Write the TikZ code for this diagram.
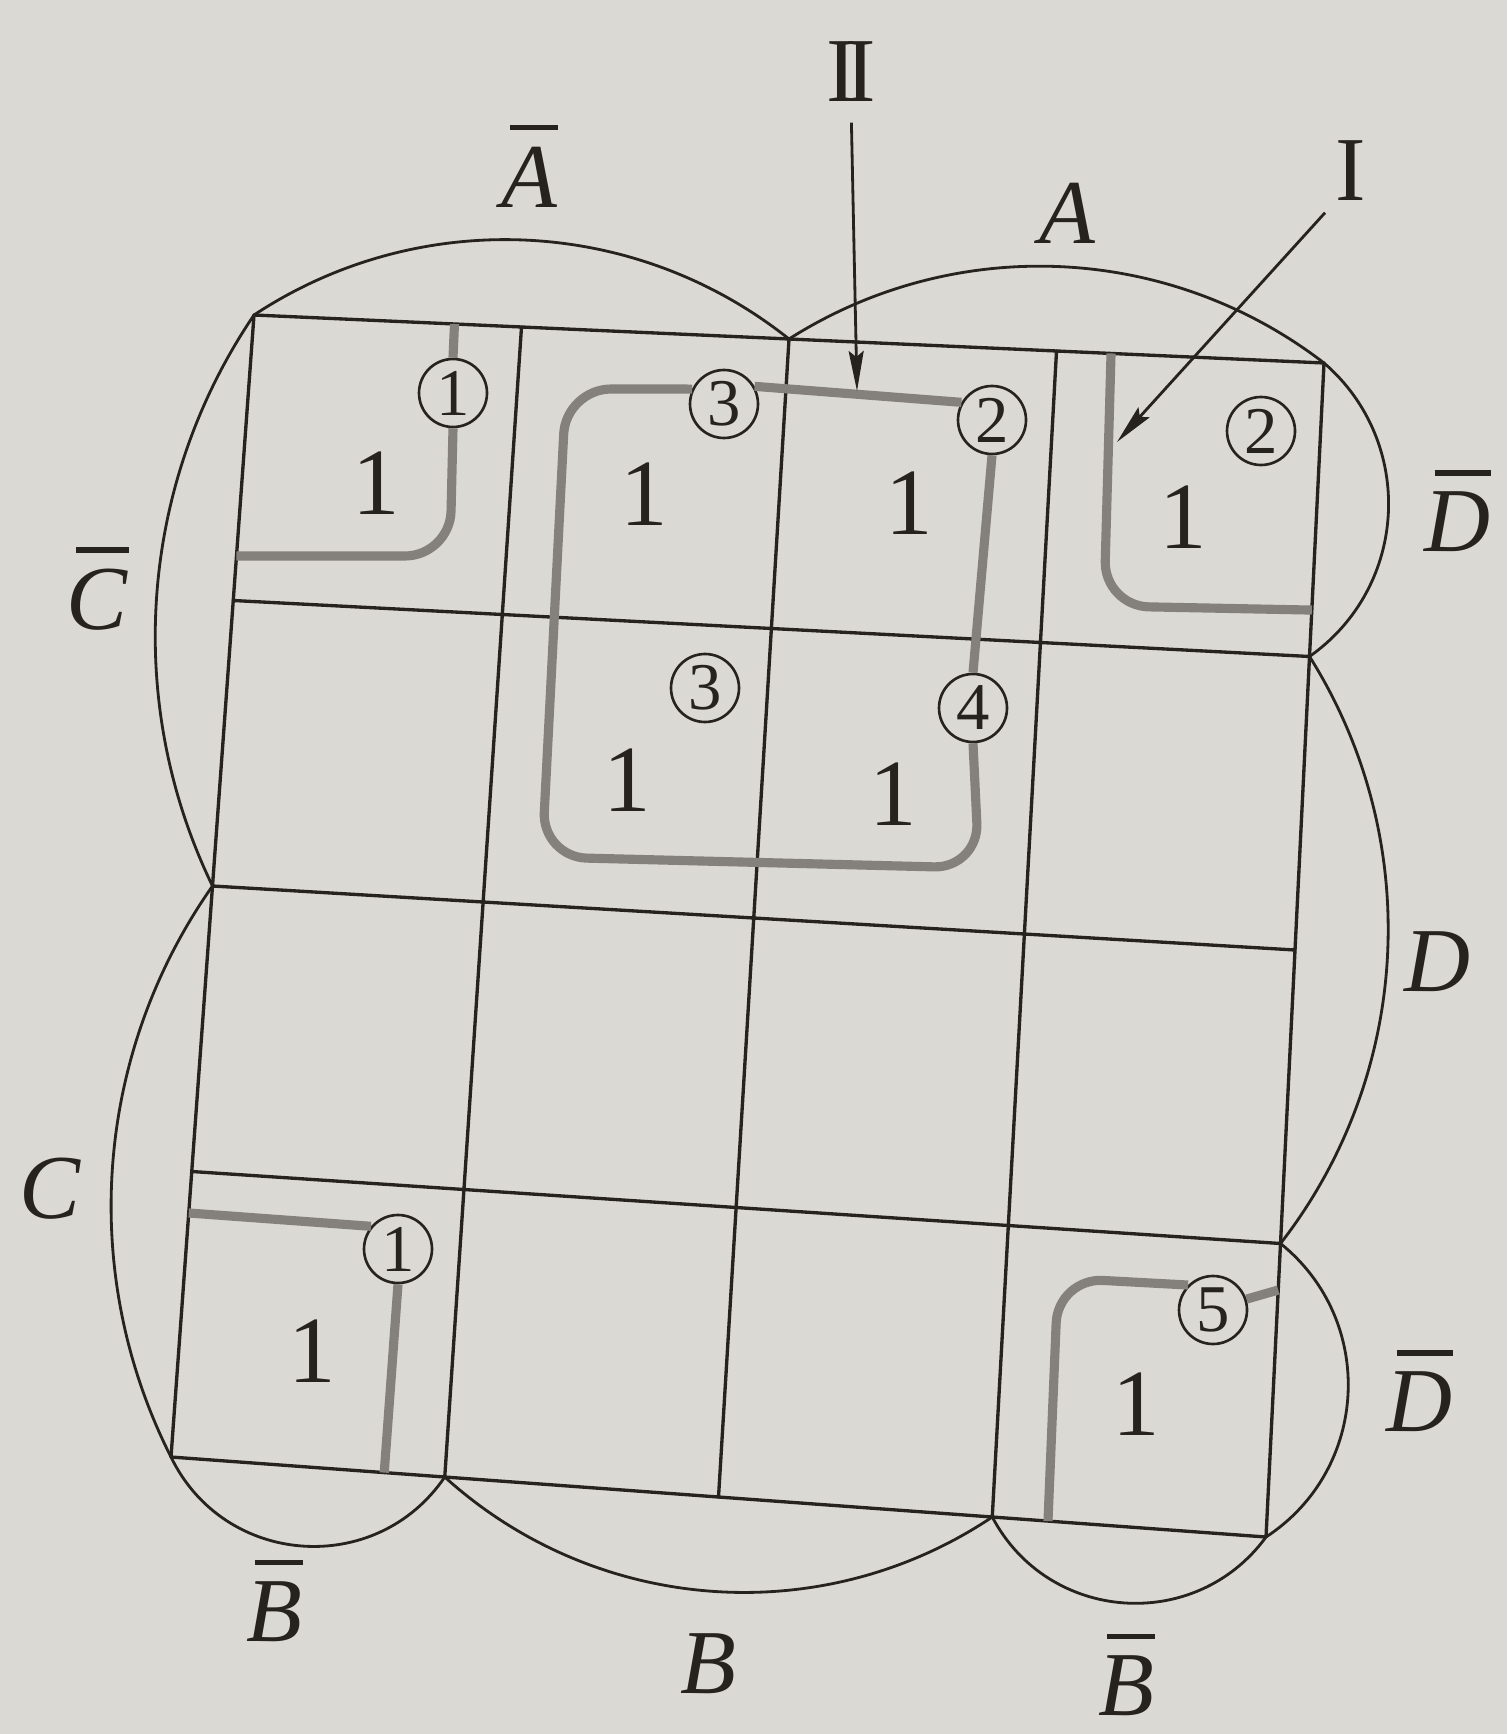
\documentclass[tikz,border=0pt]{standalone}
\usepackage{fontspec}
\setmainfont{Liberation Serif}
\usetikzlibrary{calc,arrows.meta}
\definecolor{paper}{RGB}{219,217,211}
\definecolor{ink}{RGB}{38,34,30}
\definecolor{loopgray}{RGB}{132,128,123}
\newcommand\ovl[1]{\setbox0\hbox{\itshape #1}\vbox{\offinterlineskip\hbox to\wd0{\hskip0.16\wd0\rule{0.86\wd0}{0.06em}\hss}\vskip0.18em\box0}}
\newcommand\karc[3]{\draw[envelope] (#1) .. controls ($(#1)!{1/(3*cos(#3/2)^2)}!#3:(#2)$) and ($(#2)!{1/(3*cos(#3/2)^2)}!-#3:(#1)$) .. (#2);}
\begin{document}
\begin{tikzpicture}[x=0.1mm,y=-0.1mm,
  kgrid/.style={draw=ink,line width=0.95pt,line cap=round},
  envelope/.style={draw=ink,line width=0.8pt},
  loopline/.style={draw=loopgray,line width=2.6pt,rounded corners=4.5mm},
  onecell/.style={text=ink,font=\fontsize{27}{30}\selectfont,inner sep=0pt},
  ctag/.style={circle,draw=ink,line width=0.75pt,minimum size=6.8mm,inner sep=0pt,text=ink,font=\fontsize{19}{22}\selectfont},
  lbl/.style={text=ink,font=\fontsize{26}{30}\selectfont\itshape,inner sep=0pt},
  roman/.style={text=ink,font=\fontsize{26}{30}\selectfont,inner sep=0pt},
  pointer/.style={draw=ink,line width=0.8pt,-{Stealth[length=4mm,width=1.5mm,inset=0.6mm]}}
]
\fill[paper] (0,0) rectangle (1507,1734);
\useasboundingbox (0,0) rectangle (1507,1734);

\coordinate (TL) at (254,315);
\coordinate (TR) at (1324,363);
\coordinate (BL) at (171,1457);
\coordinate (BR) at (1266,1537);
\foreach \i in {0,...,4}{\foreach \j in {0,...,4}{
  \coordinate (g\i\j) at ($($(TL)!{\i/4}!(TR)$)!{\j/4}!($(BL)!{\i/4}!(BR)$)$);}}

% grid
\foreach \j in {0,...,4} \draw[kgrid] (g0\j) -- (g4\j);
\foreach \i in {0,...,4} \draw[kgrid] (g\i0) -- (g\i4);

% variable envelopes
\karc{g00}{g20}{36}
\karc{g20}{g40}{35}
\karc{g40}{g41}{52}
\karc{g41}{g43}{35}
\karc{g43}{g44}{54}
\karc{g44}{g34}{58}
\karc{g34}{g14}{38}
\karc{g14}{g04}{60}
\karc{g04}{g02}{31}
\karc{g02}{g00}{30}

% cell values
\node[onecell] (v00) at (376,483) {1};
\node[onecell] (v01) at (644,494) {1};
\node[onecell] (v02) at (909,503) {1};
\node[onecell] (v03) at (1183,517) {1};
\node[onecell] (v11) at (627,780) {1};
\node[onecell] (v12) at (893,794) {1};
\node[onecell] (v30) at (312,1351) {1};
\node[onecell] (v33) at (1136,1404) {1};

% circled tags
\node[ctag] (t1a) at (453,393) {1};
\node[ctag] (t3a) at (724,404) {3};
\node[ctag] (t2a) at (992,420) {2};
\node[ctag] (t2b) at (1261,431) {2};
\node[ctag] (t3b) at (705,688) {3};
\node[ctag] (t4) at (973,708) {4};
\node[ctag] (t1b) at (398,1249) {1};
\node[ctag] (t5) at (1213,1310) {5};

% grey loops
\draw[loopline] (t1a.north) -- ($(g00)!(t1a.north)!(g10)$);
\draw[loopline] (t1a.south) -- (450,556) -- ($(g00)!(237,556)!(g01)$);

\draw[loopline] ($(g03)!(189,1213)!(g04)$) -- (t1b.140);
\draw[loopline] (t1b.south) -- ($(g04)!(t1b.south)!(g14)$);

\draw[loopline] (t3a.30) -- (t2a.150);
\draw[loopline] (t3a.155) -- (566,389) -- (542,857) -- (979,868) -- (t4.south);
\draw[loopline] (t2a.south) -- (t4.north);

\draw[loopline] ($(g30)!(1111,354)!(g40)$) -- (1104,606) -- ($(g40)!(1310,610)!(g41)$);

\draw[loopline] ($(g43)!(1278,1290)!(g44)$) -- (t5.18);
\draw[loopline] (t5.135) -- (1058,1278) -- ($(g34)!(1048,1521)!(g44)$);

% labels
\node[lbl] (lAbar) at (529,166) {\ovl{A}};
\node[lbl] (lA) at (1067,213) {A};
\node[roman] (lII) at (851,72) {I\kern-0.12em I};
\node[roman] (lI) at (1351,171) {I};
\node[lbl] (lCbar) at (97,589) {\ovl{C}};
\node[lbl] (lC) at (50,1189) {C};
\node[lbl] (lDbarA) at (1457,511) {\ovl{D}};
\node[lbl] (lD) at (1437,962) {D};
\node[lbl] (lDbarB) at (1419,1391) {\ovl{D}};
\node[lbl] (lBbarA) at (274,1601) {\ovl{B}};
\node[lbl] (lB) at (708,1664) {B};
\node[lbl] (lBbarB) at (1126,1675) {\ovl{B}};

% pointers
\coordinate (tipII) at (857,391);
\coordinate (tipI) at (1117,442);
\draw[pointer,shorten <=2mm] (lII.south) -- (tipII);
\draw[pointer,shorten <=1.5mm] (lI.south west) -- (tipI);
\end{tikzpicture}
\end{document}
